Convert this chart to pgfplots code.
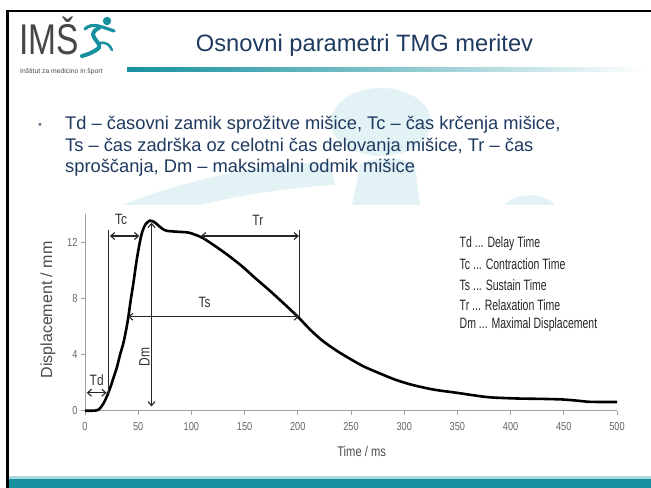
\documentclass[border=0pt]{standalone}
\usepackage{pgfplots}
\pgfplotsset{compat=1.18}
\usepackage{fontspec}
\setmainfont{Liberation Sans}
\newfontfamily\cond[FakeStretch=0.8]{Liberation Sans}
\newfontfamily\condL[FakeStretch=0.7]{Liberation Sans}
\newfontfamily\logofont[FakeStretch=0.78]{Liberation Sans}
\usetikzlibrary{arrows.meta}
\definecolor{navy}{HTML}{1F3A60}
\definecolor{tealbar}{HTML}{17919F}
\definecolor{wm}{HTML}{E3F2F5}
\definecolor{axgray}{HTML}{A0A0A0}
\definecolor{tkgray}{HTML}{666666}
\begin{document}
\begin{tikzpicture}[x=1bp,y=1bp]
\path[use as bounding box, fill=white] (0,0) rectangle (651,488);
% watermark
\fill[wm] (381,488-122) ellipse [x radius=50, y radius=34];
\fill[wm] (360,488-165) .. controls (370,488-156) and (405,488-156) .. (415,488-166) -- (420,488-205) -- (352,488-205) -- cycle;
\fill[wm] (60,488-235) .. controls (120,488-200) and (220,488-165) .. (330,488-162) -- (335,488-185) .. controls (240,488-190) and (150,488-215) .. (95,488-240) -- cycle;
\fill[wm] (505,488-205) .. controls (515,488-192) and (545,488-192) .. (555,488-205) -- cycle;
% borders
\fill[black] (6,0) rectangle (8.5,488-10);
\fill[black] (6,488-10) rectangle (651,488-12.5);
% bottom bar
\fill[tealbar!35] (8.5,0) rectangle (651,488-476.5);
\fill[tealbar] (8.5,0) rectangle (651,488-479.5);
% header bar
\shade[left color=tealbar, right color=tealbar!55] (127,488-68) rectangle (380,488-72);
\shade[left color=tealbar!55, right color=white] (380,488-68) rectangle (645,488-72);
% logo
\node[anchor=base west, inner sep=0, font=\logofont\fontsize{43bp}{43bp}\selectfont, text=black!72] at (19,488-55) {IMŠ};
\fill[tealbar] (107,488-21) circle (4.2);
\draw[tealbar, line width=3.2bp, line cap=round] (85,488-29) .. controls (92,488-22) and (102,488-27) .. (114,488-31);
\draw[tealbar, line width=4bp, line cap=round] (99,488-28) .. controls (82,488-36) and (108,488-44) .. (96,488-50) .. controls (92,488-53) and (86,488-55) .. (82,488-56);
\draw[tealbar, line width=2.5bp, line cap=round] (100,488-43) .. controls (108,488-42) and (110,488-46) .. (112,488-50);
\node[anchor=base west, inner sep=0, font=\fontsize{6.8bp}{7bp}\selectfont, text=black!70] at (20,488-74) {Inštitut za medicino in šport};
% title
\node[anchor=base, inner sep=0, font=\fontsize{23.7bp}{24bp}\selectfont, text=navy] at (364.5,488-52) {Osnovni parametri TMG meritev};
% bullet text
\node[anchor=base, inner sep=0, font=\fontsize{11bp}{11bp}\selectfont, text=navy!70] at (40,488-129) {•};
\node[anchor=base west, inner sep=0, font=\fontsize{18.3bp}{18bp}\selectfont, text=navy] at (65,488-130) {Td – časovni zamik sprožitve mišice, Tc – čas krčenja mišice,};
\node[anchor=base west, inner sep=0, font=\fontsize{18.3bp}{18bp}\selectfont, text=navy] at (65,488-152) {Ts – čas zadrška oz celotni čas delovanja mišice, Tr – čas};
\node[anchor=base west, inner sep=0, font=\fontsize{18.3bp}{18bp}\selectfont, text=navy] at (65,488-173) {sproščanja, Dm – maksimalni odmik mišice};
% chart background
\fill[white] (14,488-476.5) rectangle (645,488-205);
\begin{axis}[
  at={(85bp,77.3bp)}, anchor=south west,
  scale only axis, width=532bp, height=196.4bp,
  xmin=0, xmax=500, ymin=0, ymax=14,
  axis x line*=bottom, axis y line*=left,
  axis line style={draw=axgray, line width=0.8bp, -},
  xtick={0,50,...,500}, ytick={0,4,8,12},
  tick align=outside, major tick length=4bp,
  tick style={draw=axgray, line width=0.8bp},
  tick label style={font=\cond\fontsize{11.5bp}{11.5bp}\selectfont, text=tkgray},
  xticklabel style={yshift=-4bp},
  /pgf/number format/assume math mode=true,
  xlabel={Time / ms}, ylabel={Displacement / mm},
  xlabel style={font=\cond\fontsize{14bp}{14bp}\selectfont, text=black!70, at={(axis description cs:0.52,0)}, anchor=center, yshift=-41bp},
  ylabel style={font=\fontsize{16bp}{16bp}\selectfont, text=black!70, at={(axis description cs:-0.0695,0.513)}, anchor=center},
  clip=false,
]
\addplot[black, line width=2.6bp, smooth, tension=0.45] coordinates {
(0,0) (8,0) (12,0.05) (15,0.25) (18,0.6) (21,1.1) (24,1.7) (27,2.4) (30,3.1) (33,4.0) (36,4.8) (38.5,5.7) (40.6,6.6) (43,7.9) (45.5,9.1) (48.5,10.7) (51.5,12.0) (54,12.8) (57,13.3) (61,13.55) (65,13.45) (69,13.2) (73,12.95) (77,12.82) (86,12.76) (97,12.7) (105,12.5) (111,12.3) (123,11.7) (135,11.05) (148,10.27) (160,9.45) (173,8.6) (186,7.7) (200,6.7) (212,5.75) (223,5.0) (236,4.3) (249,3.7) (262,3.15) (277,2.66) (292,2.2) (308,1.83) (328,1.5) (349,1.28) (365,1.1) (381,0.95) (406,0.87) (430,0.84) (449,0.8) (462,0.72) (475,0.63) (500,0.62)
};
\draw[line width=1.1bp, black!85] (axis cs:22,1.2) -- (axis cs:22,12.9);
\draw[line width=1.1bp, black!85] (axis cs:201.5,6.7) -- (axis cs:201.5,12.9);
\draw[line width=1.1bp, black!85, {Straight Barb[length=4bp,width=7bp]}-{Straight Barb[length=4bp,width=7bp]}] (axis cs:62.5,13.4) -- (axis cs:62.5,0.3);
\draw[line width=1.1bp, black!85, {Straight Barb[length=4bp,width=7bp]}-{Straight Barb[length=4bp,width=7bp]}] (axis cs:1.6,1.28) -- (axis cs:20.3,1.28);
\draw[line width=1.1bp, black!85, {Straight Barb[length=4bp,width=7bp]}-{Straight Barb[length=4bp,width=7bp]}] (axis cs:23.4,12.45) -- (axis cs:51,12.45);
\draw[line width=1.1bp, black!85, {Straight Barb[length=4bp,width=7bp]}-{Straight Barb[length=4bp,width=7bp]}] (axis cs:109,12.45) -- (axis cs:201,12.45);
\draw[line width=1.1bp, black!85, {Straight Barb[length=4bp,width=7bp]}-{Straight Barb[length=4bp,width=7bp]}] (axis cs:40.6,6.7) -- (axis cs:201,6.7);
\node[font=\cond\fontsize{15bp}{15bp}\selectfont, text=black!80] at (axis cs:11,2.15) {Td};
\node[font=\cond\fontsize{15bp}{15bp}\selectfont, text=black!80] at (axis cs:34,13.6) {Tc};
\node[font=\cond\fontsize{15bp}{15bp}\selectfont, text=black!80] at (axis cs:162.5,13.6) {Tr};
\node[font=\cond\fontsize{15bp}{15bp}\selectfont, text=black!80] at (axis cs:112.5,7.75) {Ts};
\node[font=\cond\fontsize{15bp}{15bp}\selectfont, text=black!80, rotate=90] at (axis cs:56,3.85) {Dm};
\node[anchor=west, inner sep=0, font=\condL\fontsize{15bp}{15bp}\selectfont, text=black!85] at (axis cs:352,11.93) {Td ... Delay Time};
\node[anchor=west, inner sep=0, font=\condL\fontsize{15bp}{15bp}\selectfont, text=black!85] at (axis cs:352,10.46) {Tc ... Contraction Time};
\node[anchor=west, inner sep=0, font=\condL\fontsize{15bp}{15bp}\selectfont, text=black!85] at (axis cs:352,8.96) {Ts ... Sustain Time};
\node[anchor=west, inner sep=0, font=\condL\fontsize{15bp}{15bp}\selectfont, text=black!85] at (axis cs:352,7.52) {Tr ... Relaxation Time};
\node[anchor=west, inner sep=0, font=\condL\fontsize{15bp}{15bp}\selectfont, text=black!85] at (axis cs:352,6.1) {Dm ... Maximal Displacement};
\end{axis}
\end{tikzpicture}
\end{document}
